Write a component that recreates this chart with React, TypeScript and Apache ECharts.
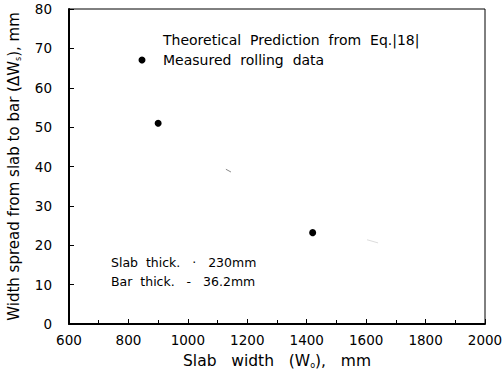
import React, { useEffect, useRef } from "react";
import * as echarts from "echarts";

const measuredWidth = [900, 1420];
const measuredSpread = [51, 23.2];
const theoryFragA = [[1128, 39.3], [1145, 38.6]];
const theoryFragB = [[1603, 21.4], [1640, 20.6]];
const legendLabels = ["Theoretical  Prediction  from  Eq.|18|", "Measured  rolling  data"];
const noteLines = ["Slab  thick.   ·   230mm", "Bar  thick.   -   36.2mm"];

const FONT = "DejaVu Sans";

export default function App() {
  const ref = useRef<HTMLDivElement>(null);
  useEffect(() => {
    if (!ref.current) return;
    const chart = echarts.init(ref.current, null, { renderer: "svg" });
    chart.setOption({
      animation: false,
      backgroundColor: "#ffffff",
      grid: {
        left: 69, right: 17, top: 9, bottom: 46,
        containLabel: false, outerBoundsMode: "none",
        show: true, borderColor: "#000", borderWidth: 1,
      },
      xAxis: {
        type: "value",
        min: 600,
        max: 2000,
        interval: 200,
        name: "Slab   width   (W{s|o}),   mm",
        nameLocation: "middle",
        nameGap: 29,
        nameTextStyle: {
          fontFamily: FONT,
          fontSize: 15.5,
          color: "#000",
          rich: {
            s: { fontFamily: FONT, fontSize: 8, color: "#000", padding: [8, 0, 0, 0] },
          },
        },
        axisLine: { lineStyle: { color: "#000", width: 2 } },
        axisTick: { inside: true, length: 5, lineStyle: { color: "#000" } },
        minorTick: { show: true, splitNumber: 2, length: 4, lineStyle: { color: "#000" } },
        axisLabel: { fontFamily: FONT, fontSize: 13.5, color: "#000", margin: 9, formatter: (v: number) => String(v) },
        splitLine: { show: false },
      },
      yAxis: {
        type: "value",
        min: 0,
        max: 80,
        interval: 10,
        name: "Width spread from slab to bar (ΔW{s|s}), mm",
        nameLocation: "middle",
        nameGap: 47,
        nameTextStyle: {
          fontFamily: FONT,
          fontSize: 15,
          color: "#000",
          rich: {
            s: { fontFamily: FONT, fontSize: 8, color: "#000", padding: [8, 0, 0, 0] },
          },
        },
        axisLine: { lineStyle: { color: "#000", width: 2 } },
        axisTick: { inside: true, length: 5, lineStyle: { color: "#000" } },
        axisLabel: { fontFamily: FONT, fontSize: 13.5, color: "#000", margin: 17, formatter: (v: number) => String(v) },
        splitLine: { show: false },
      },
      series: [
        {
          type: "scatter",
          data: measuredWidth.map((x, i) => [x, measuredSpread[i]]),
          symbol: "circle",
          symbolSize: 7,
          itemStyle: { color: "#000", opacity: 1 },
        },
        {
          type: "line",
          data: theoryFragA,
          showSymbol: false,
          lineStyle: { color: "#888", width: 1 },
        },
        {
          type: "line",
          data: theoryFragB,
          showSymbol: false,
          lineStyle: { color: "#ddd", width: 1 },
        },
      ],
      graphic: [
        { type: "circle", shape: { cx: 142, cy: 60, r: 3.5 }, style: { fill: "#000" } },
        {
          type: "text",
          x: 163,
          y: 40,
          style: { text: legendLabels[0], font: `14px "${FONT}"`, fill: "#000", textVerticalAlign: "middle" },
        },
        {
          type: "text",
          x: 163,
          y: 60,
          style: { text: legendLabels[1], font: `14px "${FONT}"`, fill: "#000", textVerticalAlign: "middle" },
        },
        {
          type: "text",
          x: 111,
          y: 262,
          style: { text: noteLines[0], font: `12.5px "${FONT}"`, fill: "#000", textVerticalAlign: "middle" },
        },
        {
          type: "text",
          x: 111,
          y: 281,
          style: { text: noteLines[1], font: `12.5px "${FONT}"`, fill: "#000", textVerticalAlign: "middle" },
        },
      ],
    });
    return () => chart.dispose();
  }, []);
  return <div ref={ref} style={{ width: 502, height: 370, position: "absolute", left: 0, top: 0 }} />;
}
